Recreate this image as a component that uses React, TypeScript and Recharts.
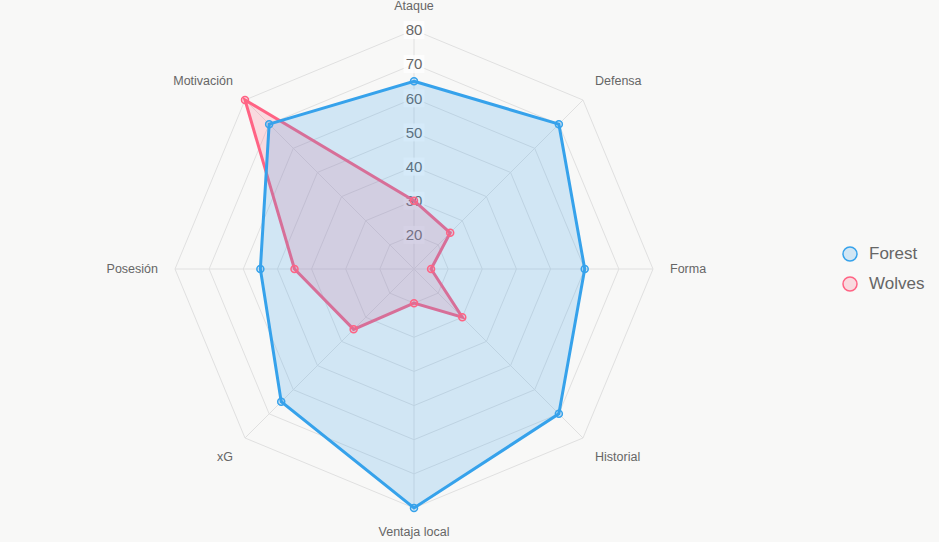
import {
  Legend,
  PolarAngleAxis,
  PolarGrid,
  PolarRadiusAxis,
  Radar,
  RadarChart,
} from "recharts";

const categories = [
  "Ataque",
  "Defensa",
  "Forma",
  "Historial",
  "Ventaja local",
  "xG",
  "Posesión",
  "Motivación",
];
const forestValues = [65, 70, 60, 70, 80, 65, 55, 70];
const wolvesValues = [30, 25, 15, 30, 20, 35, 45, 80];
const radiusDomain = [10, 80];

const data = categories.map((c, i) => ({
  subject: c,
  forest: forestValues[i],
  wolves: wolvesValues[i],
}));

const CX = 414;
const CY = 269;
const R = 239;
const LABEL_R = 256;
const FONT = '"Liberation Sans", Arial, Helvetica, sans-serif';
const BLUE = "rgb(54, 162, 235)";
const PINK = "rgb(255, 99, 132)";

function AngleTick(props: any) {
  const { payload } = props;
  const idx = categories.indexOf(payload.value);
  const rad = ((90 - idx * (360 / categories.length)) * Math.PI) / 180;
  const cos = Math.cos(rad);
  const sin = Math.sin(rad);
  const x = CX + LABEL_R * cos;
  const y = CY - LABEL_R * sin;
  const anchor = Math.abs(cos) < 0.01 ? "middle" : cos > 0 ? "start" : "end";
  const dy = Math.abs(sin) < 0.01 ? "0.35em" : sin > 0 ? "-0.25em" : "0.9em";
  return (
    <text x={x} y={y} dy={dy} textAnchor={anchor} fontSize={12.5} fontFamily={FONT} fill="#666">
      {payload.value}
    </text>
  );
}

function RadiusTick(props: any) {
  const { payload, y } = props;
  if (payload.value === radiusDomain[0]) return <g />;
  const label = String(payload.value);
  const w = label.length * 8.4 + 4;
  return (
    <g>
      <rect x={CX - w / 2} y={y - 9} width={w} height={18} fill="rgba(255,255,255,0.75)" />
      <text x={CX} y={y} dy="0.35em" textAnchor="middle" fontSize={15} fontFamily={FONT} fill="#666">
        {label}
      </text>
    </g>
  );
}

function LegendBox() {
  const items = [
    { name: "Forest", color: BLUE, fill: "rgba(54,162,235,0.2)" },
    { name: "Wolves", color: PINK, fill: "rgba(255,99,132,0.2)" },
  ];
  return (
    <div style={{ fontFamily: FONT, fontSize: 17, color: "#666" }}>
      {items.map((it) => (
        <div key={it.name} style={{ display: "flex", alignItems: "center", height: 30 }}>
          <svg width={18} height={18} style={{ marginRight: 10 }}>
            <circle cx={9} cy={9} r={7} fill={it.fill} stroke={it.color} strokeWidth={1.5} />
          </svg>
          <span>{it.name}</span>
        </div>
      ))}
    </div>
  );
}

export default function App() {
  return (
    <div
      style={{
        position: "absolute",
        left: 0,
        top: 0,
        width: 939,
        height: 542,
        background: "#f8f8f7",
      }}
    >
      <RadarChart
        width={939}
        height={542}
        data={data}
        cx={CX}
        cy={CY}
        outerRadius={R}
        margin={{ top: 0, right: 0, bottom: 0, left: 0 }}
      >
        <PolarGrid gridType="polygon" stroke="#e0e0e0" />
        <PolarAngleAxis dataKey="subject" tick={<AngleTick />} axisLine={false} tickLine={false} />
        <PolarRadiusAxis
          angle={90}
          domain={radiusDomain}
          tickCount={8}
          axisLine={false}
          tick={<RadiusTick />}
          zIndex={50}
        />
        <Radar
          dataKey="wolves"
          name="Wolves"
          stroke={PINK}
          strokeWidth={3}
          fill={PINK}
          fillOpacity={0.2}
          dot={{ r: 3.5, fill: "rgba(255,99,132,0.2)", fillOpacity: 1, stroke: PINK, strokeWidth: 1.5 }}
          isAnimationActive={false}
        />
        <Radar
          dataKey="forest"
          name="Forest"
          stroke={BLUE}
          strokeWidth={3}
          fill={BLUE}
          fillOpacity={0.2}
          dot={{ r: 3.5, fill: "rgba(54,162,235,0.2)", fillOpacity: 1, stroke: BLUE, strokeWidth: 1.5 }}
          isAnimationActive={false}
        />
        <Legend
          layout="vertical"
          align="right"
          verticalAlign="middle"
          content={<LegendBox />}
          wrapperStyle={{ position: "absolute", left: 841, top: 239, width: 98 }}
        />
      </RadarChart>
    </div>
  );
}
